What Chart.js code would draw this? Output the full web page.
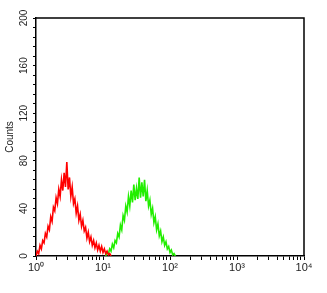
<!DOCTYPE html>
<html>
<head>
<meta charset="utf-8">
<script src="https://cdn.jsdelivr.net/npm/chart.js@4"></script>
<style>
  html, body { margin: 0; padding: 0; background: #fff; }
  canvas { display: block; }
</style>
</head>
<body>
<canvas id="histChart" width="327" height="293"></canvas>
<script>
// bins are in decades (log10 of intensity), 0.02 apart
const binStep = 0.02;
const redStart = 0;
const redCounts = [
  0, 4, 2, 9, 6, 13, 11, 19, 16, 25,
  22, 33, 29, 41, 38, 49, 44, 56, 50, 64,
  55, 70, 58, 79, 56, 66, 50, 58, 44, 48,
  36, 42, 30, 35, 25, 30, 21, 24, 15, 20,
  12, 16, 9, 13, 7, 11, 5, 9, 4, 8,
  3, 6, 2, 4, 1, 2, 0
];
const greenStart = 1.04;
const greenCounts = [
  0, 3, 2, 6, 4, 10, 7, 13, 11, 19,
  16, 26, 22, 34, 30, 42, 37, 50, 42, 55,
  45, 60, 47, 57, 48, 66, 49, 62, 50, 64,
  46, 55, 42, 47, 35, 40, 28, 33, 22, 27,
  17, 21, 12, 16, 9, 12, 6, 8, 3, 5,
  1, 2, 0
];

const decades = [0, 1, 2, 3, 4];
const minorSteps = [2, 3, 4, 5, 6, 7, 8, 9];
const countLabels = [0, 40, 80, 120, 160, 200];
const sup = { 0: "\u2070", 1: "\u00B9", 2: "\u00B2", 3: "\u00B3", 4: "\u2074" };

const toPoints = (start, counts) =>
  counts.map((c, i) => ({ x: +(start + i * binStep).toFixed(2), y: c }));

const framePlugin = {
  id: "frame",
  afterDraw(chart) {
    const { ctx, chartArea: a } = chart;
    ctx.save();
    ctx.strokeStyle = "#000";
    ctx.lineWidth = 1.5;
    ctx.beginPath();
    ctx.moveTo(a.left, a.top);
    ctx.lineTo(a.right, a.top);
    ctx.lineTo(a.right, a.bottom);
    ctx.stroke();
    ctx.restore();
  },
};

const canvas = document.getElementById("histChart");
new Chart(canvas, {
  type: "line",
  data: {
    datasets: [
      {
        label: "control",
        data: toPoints(redStart, redCounts),
        borderColor: "#ff0000",
        borderWidth: 1.6,
        pointRadius: 0,
        tension: 0,
        fill: false,
      },
      {
        label: "antibody",
        data: toPoints(greenStart, greenCounts),
        borderColor: "#22ee00",
        borderWidth: 1.6,
        pointRadius: 0,
        tension: 0,
        fill: false,
      },
    ],
  },
  options: {
    responsive: false,
    animation: false,
    layout: { padding: { top: 18, right: 23, left: 0, bottom: 0 } },
    plugins: {
      legend: { display: false },
      tooltip: { enabled: false },
    },
    scales: {
      x: {
        type: "linear",
        min: 0,
        max: 4,
        afterFit: (s) => { s.height = 37; },
        afterBuildTicks: (s) => {
          const ticks = [];
          decades.forEach((d) => {
            ticks.push({ value: d });
            if (d < 4) minorSteps.forEach((m) => ticks.push({ value: d + Math.log10(m) }));
          });
          s.ticks = ticks;
        },
        border: { color: "#000", width: 1.5 },
        grid: {
          drawOnChartArea: false,
          drawTicks: true,
          tickLength: 4,
          tickColor: "#000",
        },
        ticks: {
          autoSkip: false,
          maxRotation: 0,
          padding: 1,
          color: "#222",
          font: { family: "Liberation Sans", size: 11 },
          callback: (v) => (decades.includes(v) ? "10" + sup[v] : ""),
        },
      },
      y: {
        min: 0,
        max: 200,
        afterFit: (s) => { s.width = 36; },
        border: { color: "#000", width: 1.5 },
        grid: {
          drawOnChartArea: false,
          drawTicks: true,
          tickLength: 3,
          tickColor: "#000",
        },
        title: {
          display: true,
          text: "Counts",
          color: "#222",
          font: { family: "Liberation Sans", size: 10 },
          padding: { top: 4, bottom: 0 },
        },
        ticks: {
          stepSize: 8,
          autoSkip: false,
          minRotation: 90,
          maxRotation: 90,
          crossAlign: "center",
          padding: 0,
          color: "#222",
          font: { family: "Liberation Sans", size: 10 },
          callback: (v) => (countLabels.includes(v) ? String(v) : ""),
        },
      },
    },
  },
  plugins: [framePlugin],
});
</script>
</body>
</html>
